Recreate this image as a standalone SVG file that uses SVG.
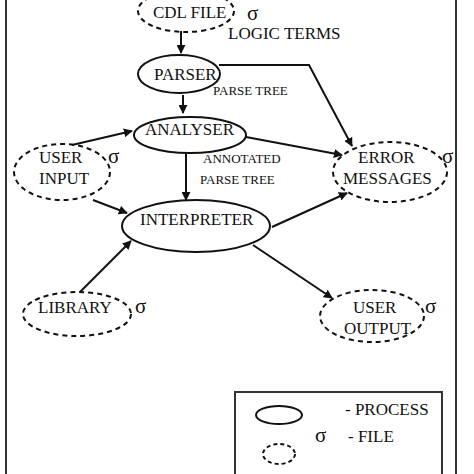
<svg xmlns="http://www.w3.org/2000/svg" width="474" height="474" viewBox="0 0 474 474">
<style>
text{font-family:"Liberation Serif","Times New Roman",serif;fill:#111}
.t{font-size:17px}
.s{font-size:13px}
.g{font-size:21px}
.proc{fill:none;stroke:#111;stroke-width:2}
.file{fill:none;stroke:#111;stroke-width:2;stroke-dasharray:5,4}
.c{fill:none;stroke:#111;stroke-width:2;marker-end:url(#ah)}
</style>
<defs>
<marker id="ah" viewBox="0 0 10 10" refX="9" refY="5" markerWidth="9" markerHeight="9" markerUnits="userSpaceOnUse" orient="auto">
<path d="M0,0 L10,5 L0,10 z" fill="#111"/>
</marker>
</defs>
<rect width="474" height="474" fill="#fff"/>
<rect x="6" y="-5" width="450" height="490" fill="none" stroke="#333" stroke-width="2"/>
<g id="connectors">
<line class="c" x1="181" y1="31" x2="181" y2="53"/>
<polyline class="c" points="219,65 309,65 352,146"/>
<line class="c" x1="183" y1="95" x2="183" y2="113"/>
<line class="c" x1="72" y1="145" x2="132" y2="131"/>
<line class="c" x1="246" y1="137" x2="342" y2="155"/>
<line class="c" x1="186" y1="154" x2="186" y2="200"/>
<line class="c" x1="93" y1="200" x2="127" y2="213"/>
<line class="c" x1="272" y1="227" x2="347" y2="193"/>
<line class="c" x1="80" y1="292" x2="131" y2="241"/>
<line class="c" x1="253" y1="245" x2="332" y2="298"/>
</g>
<g id="cdl">
<ellipse class="file" cx="186" cy="11" rx="48" ry="21"/>
<text class="t" x="153" y="18">CDL FILE</text>
<text class="g" x="247" y="20">σ</text>
</g>
<text class="t" x="228" y="39">LOGIC TERMS</text>
<g id="parser">
<ellipse class="proc" cx="179" cy="74" rx="41" ry="19"/>
<text class="t" x="154" y="80">PARSER</text>
</g>
<text class="s" x="213" y="95">PARSE TREE</text>
<g id="analyser">
<ellipse class="proc" cx="190" cy="135" rx="56" ry="18"/>
<text class="t" x="145" y="135">ANALYSER</text>
</g>
<text class="s" x="203" y="163">ANNOTATED</text>
<text class="s" x="200" y="184">PARSE TREE</text>
<g id="userinput">
<ellipse class="file" cx="62" cy="172" rx="48" ry="28"/>
<text class="t" x="39" y="163">USER</text>
<text class="t" x="39" y="184">INPUT</text>
<text class="g" x="108" y="163">σ</text>
</g>
<g id="errors">
<ellipse class="file" cx="390" cy="172" rx="57" ry="30"/>
<text class="t" x="358" y="163">ERROR</text>
<text class="t" x="343" y="184">MESSAGES</text>
<text class="g" x="442" y="163">σ</text>
</g>
<g id="interpreter">
<ellipse class="proc" cx="196" cy="226" rx="74" ry="26"/>
<text class="t" x="140" y="225">INTERPRETER</text>
</g>
<g id="library">
<ellipse class="file" cx="77" cy="314" rx="54" ry="22"/>
<text class="t" x="38" y="313">LIBRARY</text>
<text class="g" x="135" y="313">σ</text>
</g>
<g id="useroutput">
<ellipse class="file" cx="372" cy="316" rx="52" ry="26"/>
<text class="t" x="353" y="313">USER</text>
<text class="t" x="344" y="334">OUTPUT</text>
<text class="g" x="425" y="313">σ</text>
</g>
<g id="legend">
<rect x="235" y="392" width="207" height="95" fill="none" stroke="#333" stroke-width="2"/>
<ellipse class="proc" cx="279" cy="415" rx="23" ry="9"/>
<text class="t" x="345" y="415">-  PROCESS</text>
<text class="g" x="315" y="442">σ</text>
<text class="t" x="348" y="442">-  FILE</text>
<ellipse class="file" cx="279" cy="454" rx="16" ry="10" style="stroke-dasharray:4,3"/>
</g>
</svg>
